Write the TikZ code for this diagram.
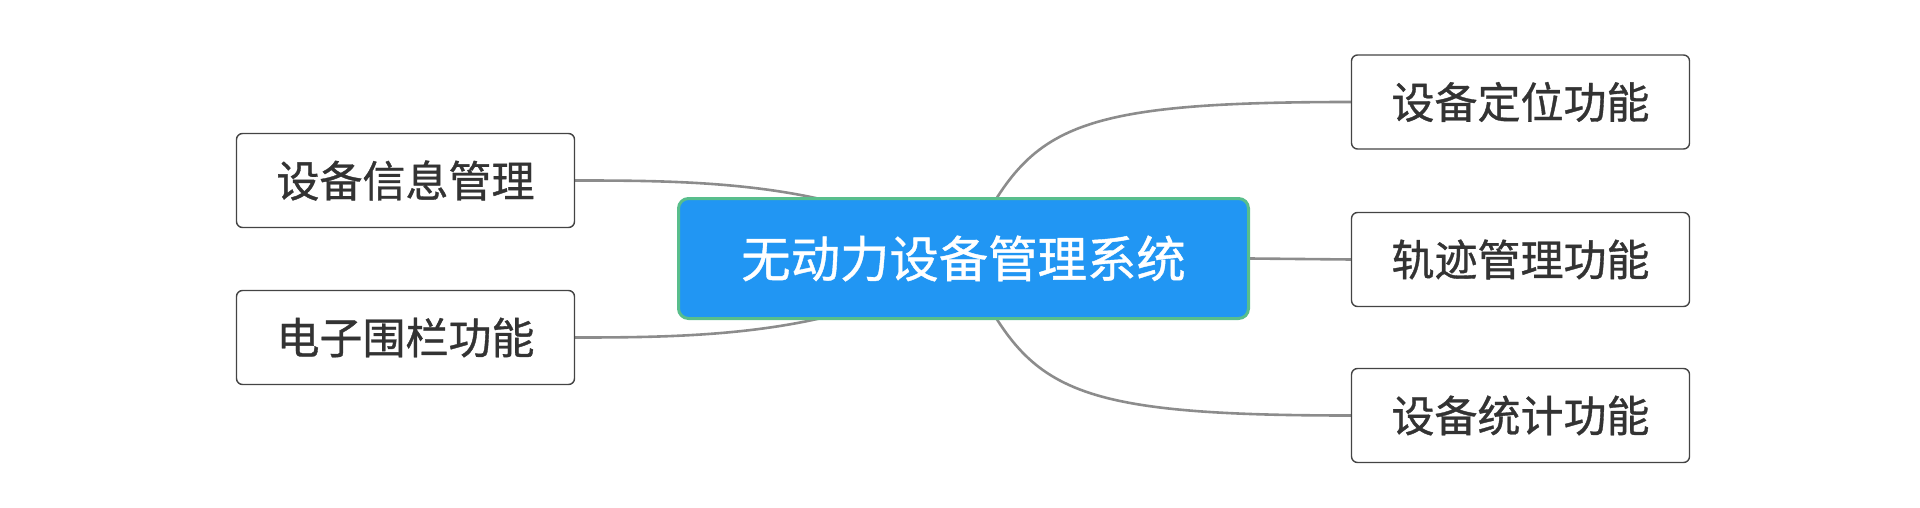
\documentclass[tikz,border=0pt]{standalone}
\usepackage{fontspec}
\newfontfamily\cjk[FakeBold=0.8]{Noto Sans CJK SC}
\usepackage{xcolor}
\usetikzlibrary{positioning,backgrounds}
\definecolor{topicblue}{RGB}{33,150,243}
\definecolor{topicgreen}{RGB}{88,190,140}
\definecolor{linkgray}{RGB}{140,140,140}
\definecolor{boxgray}{RGB}{68,68,68}
\begin{document}
\begin{tikzpicture}[x=0.5pt,y=-0.5pt,font=\cjk,
		topic/.style={draw=topicgreen, line width=1.5pt, fill=topicblue, rounded corners=5pt,
		text=white, font=\cjk\fontsize{24.7}{28}\selectfont, minimum width=285pt, minimum height=60pt},
		branch/.style={draw=boxgray, line width=0.7pt, fill=white, rounded corners=3pt,
		text=black!80, font=\cjk\fontsize{21.5}{25}\selectfont, minimum width=169pt, minimum height=47pt},
		link/.style={draw=linkgray, line width=1.3pt}]
		\useasboundingbox (0,0) rectangle (1920,508);
		\node[topic] (sys) at (963.5,258.5) {无动力设备管理系统};
		\node[branch] (info) at (405.5,180.5) {设备信息管理};
		\node[branch] (fence) at (405.5,337.5) {电子围栏功能};
		\node[branch] (locate) at (1520.5,102) {设备定位功能};
		\node[branch] (track) at (1520.5,259.5) {轨迹管理功能};
		\node[branch] (stat) at (1520.5,415.5) {设备统计功能};
		\begin{scope}[on background layer]
			\draw[link] (sys.center) .. controls +(-112,-77) and +(125,0) .. (info.east);
			\draw[link] (sys.center) .. controls +(-112,77) and +(125,0) .. (fence.east);
			\draw[link] (sys.center) .. controls +(65,-128) and +(-300,0) .. (locate.west);
			\draw[link] (sys.east) -- (track.west);
			\draw[link] (sys.center) .. controls +(65,128) and +(-300,0) .. (stat.west);
		\end{scope}
	\end{tikzpicture}
\end{document}
